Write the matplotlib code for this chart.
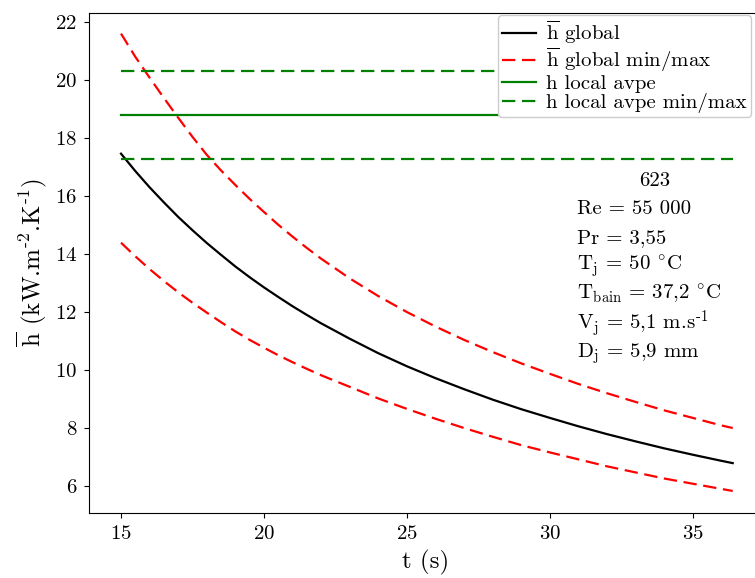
import matplotlib
matplotlib.use('Agg')
import matplotlib.pyplot as plt

plt.rcParams['font.family'] = ['cmr10', 'DejaVu Serif']
plt.rcParams['mathtext.fontset'] = 'cm'
plt.rcParams['axes.formatter.use_mathtext'] = True

# data
t = [15, 15.5, 16, 16.5, 17, 17.5, 18, 18.5, 19, 19.5, 20, 20.5, 21, 21.5,
     22, 23, 24, 25, 26, 27, 28, 29, 30, 31, 32, 33, 34, 35, 36, 36.4]
h_global = [17.46, 16.86, 16.30, 15.78, 15.28, 14.82, 14.38, 13.97, 13.57,
            13.20, 12.85, 12.52, 12.20, 11.90, 11.61, 11.08, 10.58, 10.13,
            9.72, 9.34, 8.98, 8.65, 8.35, 8.06, 7.79, 7.54, 7.30, 7.08, 6.87,
            6.79]
h_global_max = [21.60, 20.80, 20.08, 19.38, 18.70, 18.04, 17.42, 16.88, 16.38,
                15.90, 15.45, 15.01, 14.60, 14.21, 13.84, 13.16, 12.55, 12.00,
                11.50, 11.04, 10.62, 10.23, 9.87, 9.52, 9.20, 8.90, 8.61, 8.35,
                8.09, 8.00]
h_global_min = [14.39, 13.92, 13.48, 13.07, 12.68, 12.32, 11.98, 11.65, 11.33,
                11.04, 10.77, 10.51, 10.27, 10.04, 9.82, 9.42, 9.02, 8.66, 8.32,
                8.00, 7.70, 7.41, 7.16, 6.92, 6.68, 6.47, 6.26, 6.08, 5.90, 5.83]
h_local_avg = 18.79
h_local_max = 20.30
h_local_min = 17.28

info_title = '623'
info_lines = ['Re = 55 000',
              'Pr = 3,55',
              r'T$_\mathrm{j}$ = 50 $^{\circ}\mathrm{C}$',
              r'T$_\mathrm{bain}$ = 37,2 $^{\circ}\mathrm{C}$',
              r'V$_\mathrm{j}$ = 5,1 m.s$^{\text{-1}}$',
              r'D$_\mathrm{j}$ = 5,9 mm']

W, H = 755, 578
fig = plt.figure(figsize=(W / 100, H / 100), dpi=100)
ax = fig.add_axes([89 / W, 65 / H, 674 / W, 500 / H])

dash = (0, (6, 3))
ax.plot(t, h_global, color='black', lw=1.6, label=r'$\overline{\mathrm{h}}$ global')
ax.plot(t, h_global_max, color='red', lw=1.6, ls=dash,
        label=r'$\overline{\mathrm{h}}$ global min/max')
ax.plot(t, h_global_min, color='red', lw=1.6, ls=dash)
ax.plot([t[0], t[-1]], [h_local_avg] * 2, color='green', lw=1.6,
        label='h local avpe')
ax.plot([t[0], t[-1]], [h_local_max] * 2, color='green', lw=1.6, ls=dash,
        label='h local avpe min/max')
ax.plot([t[0], t[-1]], [h_local_min] * 2, color='green', lw=1.6, ls=dash)

ax.set_xlim(13.88, 37.46)
ax.set_ylim(5.07, 22.31)
ax.set_xticks([15, 20, 25, 30, 35])
ax.set_yticks(range(6, 23, 2))
ax.tick_params(labelsize=15, pad=5)
ax.set_xlabel('t (s)', fontsize=18, labelpad=5)
ax.set_ylabel(r'$\overline{\mathrm{h}}$ (kW.m$^{\text{-2}}$.K$^{\text{-1}}$)',
              fontsize=18, labelpad=4)

ax.legend(loc='upper left', bbox_to_anchor=((498 - 89) / 674, (513 - 15) / 500),
          borderaxespad=0, fontsize=15, framealpha=1, handlelength=1.6,
          labelspacing=0.0, borderpad=0.2, handletextpad=0.5)

# info block
fig.text(655 / W, 1 - 186 / H, info_title, fontsize=15, ha='center', va='baseline')
for i, line in enumerate(info_lines):
    fig.text(577 / W, 1 - (214 + 28.7 * i) / H, line, fontsize=15,
             ha='left', va='baseline')

fig.savefig('out.png', dpi=100)
